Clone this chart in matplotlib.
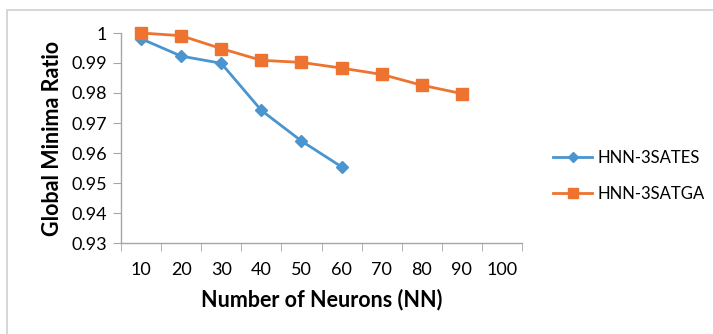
import numpy as np
import matplotlib.pyplot as plt
from matplotlib.patches import Rectangle
from matplotlib.lines import Line2D

# --- Data ---
neurons = ['10', '20', '30', '40', '50', '60', '70', '80', '90', '100']
ses_vals = [0.9981, 0.9923, 0.9899, 0.9742, 0.9640, 0.9554]
sga_vals = [1.0000, 0.9991, 0.9948, 0.9909, 0.9902, 0.9883, 0.9862, 0.9826, 0.9798]
ses_label = 'HNN-3SATES'
sga_label = 'HNN-3SATGA'

BLUE = '#4A95D0'
ORANGE = '#EE7330'
AXIS_GRAY = '#A6A6A6'

plt.rcParams['font.family'] = ['Lato', 'DejaVu Sans']

fig = plt.figure(figsize=(7.13, 3.34), dpi=100)

# light border around the chart area
fig.patches.append(Rectangle((7 / 713, -0.1), 1.1, (334 - 10) / 334 + 0.1,
                             transform=fig.transFigure, fill=False,
                             edgecolor='#D0D0D0', linewidth=1.2))

ax = fig.add_axes([121 / 713, (334 - 243) / 334, 401 / 713, 210 / 334])

x = np.arange(len(neurons))
ax.plot(x[:len(ses_vals)], ses_vals, color=BLUE, linewidth=2.0,
        marker='D', markersize=6, clip_on=False, zorder=3)
ax.plot(x[:len(sga_vals)], sga_vals, color=ORANGE, linewidth=2.0,
        marker='s', markersize=8, clip_on=False, zorder=4)

ax.set_xlim(-0.5, len(neurons) - 0.5)
ax.set_ylim(0.93, 1.0)
ax.set_yticks(np.arange(0.93, 1.0001, 0.01))
ax.set_yticklabels(['0.93', '0.94', '0.95', '0.96', '0.97', '0.98', '0.99', '1'])

# category axis: labels centred, tick marks at boundaries
ax.set_xticks(x)
ax.set_xticklabels(neurons)
ax.tick_params(axis='x', which='major', length=0, pad=14, labelsize=13)
ax.set_xticks(np.arange(-0.5, len(neurons)), minor=True)
ax.tick_params(axis='x', which='minor', length=6, color=AXIS_GRAY, direction='out')
ax.tick_params(axis='y', length=6, color=AXIS_GRAY, labelsize=13, pad=4)

for s in ['top', 'right']:
    ax.spines[s].set_visible(False)
for s in ['left', 'bottom']:
    ax.spines[s].set_color(AXIS_GRAY)
    ax.spines[s].set_linewidth(1.0)

ax.set_xlabel('Number of Neurons (NN)', fontsize=15.5, fontweight='bold', labelpad=7)
ax.set_ylabel('Global Minima Ratio', fontsize=15.5, fontweight='bold', labelpad=6)

handles = [Line2D([], [], color=BLUE, linewidth=2.0, marker='D', markersize=5),
           Line2D([], [], color=ORANGE, linewidth=2.0, marker='s', markersize=7)]
fig.legend(handles, [ses_label, sga_label], loc='center left',
           bbox_to_anchor=(553 / 713, (334 - 176) / 334), frameon=False,
           borderpad=0, borderaxespad=0,
           fontsize=12, handlelength=2.35, handletextpad=0.3, labelspacing=1.2)

fig.savefig('out.png', dpi=100)
